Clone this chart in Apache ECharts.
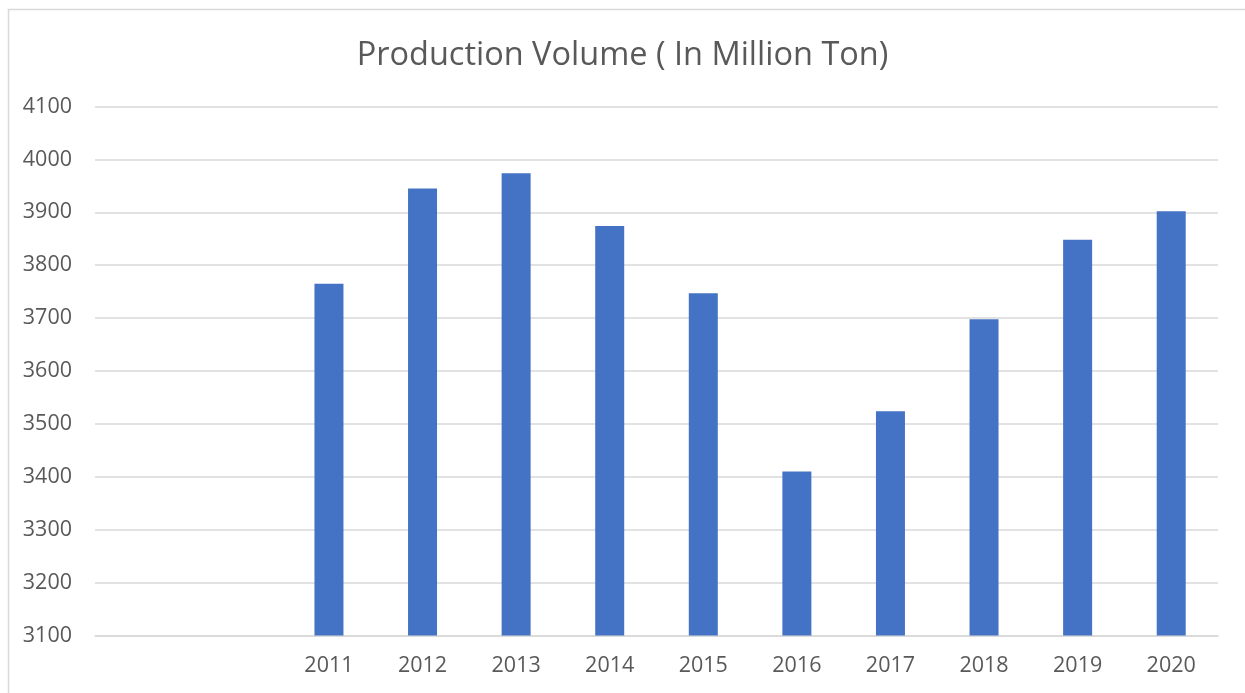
<!DOCTYPE html>
<html>
<head>
<meta charset="utf-8">
<style>
  html, body { margin: 0; padding: 0; background: #ffffff; }
  #chart { width: 1245px; height: 693px; }
</style>
<script src="https://cdn.jsdelivr.net/npm/echarts@6/dist/echarts.min.js"></script>
</head>
<body>
<div id="chart"></div>
<script>
// Years on the category axis (two leading empty slots keep the bars to the right)
const years = ['', '', '2011', '2012', '2013', '2014', '2015', '2016', '2017', '2018', '2019', '2020'];
// Production volume, million tons
const volumes = [null, null, 3765, 3945, 3974, 3874, 3747, 3410, 3524, 3698, 3848, 3902];
// Value axis range
const yMin = 3100;
const yMax = 4100;
const yStep = 100;

const textColor = '#595959';
const gridColor = '#d9d9d9';
const font = 'Open Sans';

const chart = echarts.init(document.getElementById('chart'), null, { renderer: 'canvas' });
chart.setOption({
  backgroundColor: '#ffffff',
  animation: false,
  graphic: [{
    type: 'rect',
    left: 6, top: 7,
    shape: { width: 1260, height: 700 },
    style: { fill: 'none', stroke: '#d9d9d9', lineWidth: 1.5 },
    silent: true
  }],
  title: {
    text: 'Production Volume ( In Million Ton)',
    left: 'center',
    top: 34,
    textStyle: { fontFamily: font, fontSize: 32.5, fontWeight: 'normal', color: textColor }
  },
  grid: { left: 95, right: 27, top: 106.5, bottom: 57.5, containLabel: false },
  xAxis: {
    type: 'category',
    data: years,
    axisLine: { show: true, lineStyle: { color: gridColor, width: 1.5 } },
    axisTick: { show: false },
    axisLabel: { color: textColor, fontFamily: font, fontSize: 21.5, margin: 19 }
  },
  yAxis: {
    type: 'value',
    min: yMin, max: yMax, interval: yStep,
    axisLine: { show: false },
    axisTick: { show: false },
    splitLine: { lineStyle: { color: gridColor, width: 1.5 } },
    axisLabel: {
      color: textColor, fontFamily: font, fontSize: 21.5, margin: 23,
      formatter: (v) => String(v)
    }
  },
  series: [{
    type: 'bar',
    data: volumes,
    barWidth: 29,
    itemStyle: { color: '#4472c4' }
  }]
});
</script>
</body>
</html>
